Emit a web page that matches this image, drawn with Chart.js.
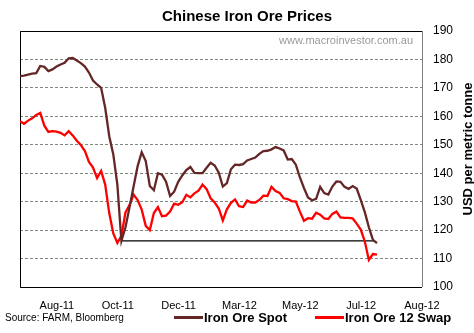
<!DOCTYPE html>
<html>
<head>
<meta charset="utf-8">
<script src="https://cdn.jsdelivr.net/npm/chart.js@4"></script>
<style>
  body { margin: 0; background: #fff; }
  #wrap { position: relative; width: 474px; height: 333px; }
  #chart { position: absolute; left: 0; top: 0; }
  .foot { position: absolute; top: 310px; font-family: "Liberation Sans", sans-serif; color: #000; white-space: nowrap; }
  .src { left: 5px; font-size: 10px; top: 312px; }
  .item { font-weight: bold; font-size: 13px; }
  .item span.ln { display: inline-block; width: 29px; height: 3px; vertical-align: middle; margin-right: 1px; position: relative; top: -1px; }
</style>
</head>
<body>
<div id="wrap">
  <canvas id="chart" width="474" height="333"></canvas>
  <div class="foot src">Source: FARM, Bloomberg</div>
  <div class="foot item" style="left:174px"><span class="ln" style="background:#652626"></span>Iron Ore Spot</div>
  <div class="foot item" style="left:315px"><span class="ln" style="background:#ff0000"></span>Iron Ore 12 Swap</div>
</div>
<script>
// roughly every 3 trading days, Jul-11 to Jul-12
const spotPrices = [174.1, 174.3, 174.7, 175.0, 175.2, 177.7, 177.4, 175.9, 176.5, 177.5,
  178.2, 178.8, 180.4, 180.5, 179.6, 178.7, 177.5, 175.4, 172.6, 171.2,
  170.0, 163.0, 153.0, 146.6, 136.0, 116.2, 121.0, 128.0, 135.3, 142.5,
  147.4, 144.3, 135.5, 134.0, 140.0, 139.5, 137.0, 132.0, 133.5, 137.0,
  139.2, 141.1, 142.2, 140.1, 140.0, 140.0, 141.9, 143.7, 142.7, 140.2,
  135.3, 136.5, 141.4, 143.0, 142.9, 143.2, 144.5, 145.0, 145.5, 146.8,
  147.8, 147.9, 148.4, 149.2, 148.7, 148.0, 144.8, 145.0, 143.0, 138.5,
  134.8, 131.5, 130.5, 131.0, 135.2, 133.0, 132.5, 135.3, 137.1, 137.0,
  135.2, 134.5, 135.5, 134.6, 130.6, 126.3, 121.0, 116.6, 115.4];

const swapPrices = [158.3, 157.4, 158.5, 159.3, 160.5, 161.2, 156.7, 154.5, 154.8, 154.6,
  154.2, 153.3, 154.8, 153.3, 151.4, 149.9, 147.8, 144.0, 142.0, 138.3,
  140.8, 136.0, 126.0, 118.8, 115.5, 118.0, 126.2, 128.8, 132.5, 130.6,
  127.2, 121.5, 120.0, 126.0, 128.1, 124.9, 125.1, 126.5, 129.3, 128.9,
  129.8, 132.4, 131.5, 132.9, 133.9, 136.0, 134.4, 131.2, 129.7, 127.6,
  123.4, 127.3, 129.6, 130.8, 128.4, 128.1, 130.4, 129.7, 129.7, 130.6,
  132.1, 132.0, 135.2, 133.7, 133.1, 131.2, 130.9, 130.2, 130.0, 126.5,
  123.3, 124.2, 124.0, 126.1, 125.4, 124.1, 123.9, 125.7, 126.5, 124.5,
  124.3, 124.3, 124.1, 122.3, 120.2, 116.0, 109.5, 111.6, 111.4];

// support level drawn from the Oct-11 spot low
const supportLevel = 116.2;
const supportFrom = 25;
const supportTo = 87.5;

const tickLabels = ['Aug-11', 'Oct-11', 'Dec-11', 'Mar-12', 'May-12', 'Jul-12', 'Aug-12'];
const tickFirst = 9.1;
const tickStep = 15;
const yTicks = [100, 110, 120, 130, 140, 150, 160, 170, 180, 190];

const fontName = '"Liberation Sans", Arial, sans-serif';

const framePlugin = {
  id: 'frame',
  beforeDatasetsDraw(chart) {
    const { ctx, chartArea: a } = chart;
    ctx.save();
    ctx.lineWidth = 1;
    ctx.strokeStyle = '#000';
    ctx.beginPath();
    ctx.moveTo(a.right, a.top + 0.5);
    ctx.lineTo(a.left + 0.5, a.top + 0.5);
    ctx.lineTo(a.left + 0.5, a.bottom + 0.5);
    ctx.lineTo(a.right, a.bottom + 0.5);
    ctx.stroke();
    ctx.strokeStyle = '#808080';
    ctx.beginPath();
    ctx.moveTo(a.right + 0.5, a.top);
    ctx.lineTo(a.right + 0.5, a.bottom);
    ctx.stroke();
    // watermark
    ctx.font = '11px ' + fontName;
    ctx.fillStyle = '#9a9a9a';
    ctx.textAlign = 'right';
    ctx.textBaseline = 'middle';
    ctx.fillText('www.macroinvestor.com.au', a.right - 9, a.top + 10);
    ctx.restore();
  },
  afterDraw(chart) {
    const { ctx } = chart;
    ctx.save();
    ctx.translate(468, 149);
    ctx.rotate(-Math.PI / 2);
    ctx.font = 'bold 13px ' + fontName;
    ctx.fillStyle = '#000';
    ctx.textAlign = 'center';
    ctx.textBaseline = 'middle';
    ctx.fillText('USD per metric tonne', 0, 0);
    ctx.restore();
  }
};

new Chart(document.getElementById('chart'), {
  type: 'line',
  data: {
    datasets: [
      {
        label: 'Iron Ore Spot',
        data: spotPrices.map((v, i) => ({ x: i, y: v })),
        borderColor: '#652626',
        borderWidth: 2.3,
        pointRadius: 0,
        tension: 0
      },
      {
        label: 'Iron Ore 12 Swap',
        data: swapPrices.map((v, i) => ({ x: i, y: v })),
        borderColor: '#ff0000',
        borderWidth: 2.3,
        pointRadius: 0,
        tension: 0
      },
      {
        label: 'Support',
        data: [{ x: supportFrom, y: supportLevel }, { x: supportTo, y: supportLevel }],
        borderColor: '#000',
        borderWidth: 1.3,
        pointRadius: 0
      }
    ]
  },
  options: {
    responsive: false,
    animation: false,
    layout: { padding: { left: 20, top: 0, right: 0, bottom: 0 } },
    plugins: {
      legend: { display: false },
      tooltip: { enabled: false },
      title: {
        display: true,
        text: 'Chinese Iron Ore Prices',
        color: '#000',
        font: { family: fontName, size: 15, weight: 'bold' },
        padding: { top: 8, bottom: 5 }
      }
    },
    scales: {
      x: {
        type: 'linear',
        min: 0,
        max: tickFirst + tickStep * (tickLabels.length - 1),
        afterBuildTicks: s => {
          s.ticks = tickLabels.map((_, i) => ({ value: tickFirst + tickStep * i }));
        },
        afterFit: s => { s.height = 46; },
        grid: { display: false },
        border: { display: false },
        ticks: {
          autoSkip: false,
          maxRotation: 0,
          padding: 4,
          color: '#000',
          font: { family: fontName, size: 11 },
          callback: (v, i) => tickLabels[i]
        }
      },
      y: {
        position: 'right',
        min: 100,
        max: 190,
        afterBuildTicks: s => { s.ticks = yTicks.map(v => ({ value: v })); },
        afterFit: s => { s.width = 52; },
        grid: { color: '#7f8a7f', drawTicks: false },
        border: { display: false, dash: [3, 2] },
        ticks: {
          padding: 11,
          color: '#000',
          font: { family: fontName, size: 12 }
        }
      }
    }
  },
  plugins: [framePlugin]
});
</script>
</body>
</html>
